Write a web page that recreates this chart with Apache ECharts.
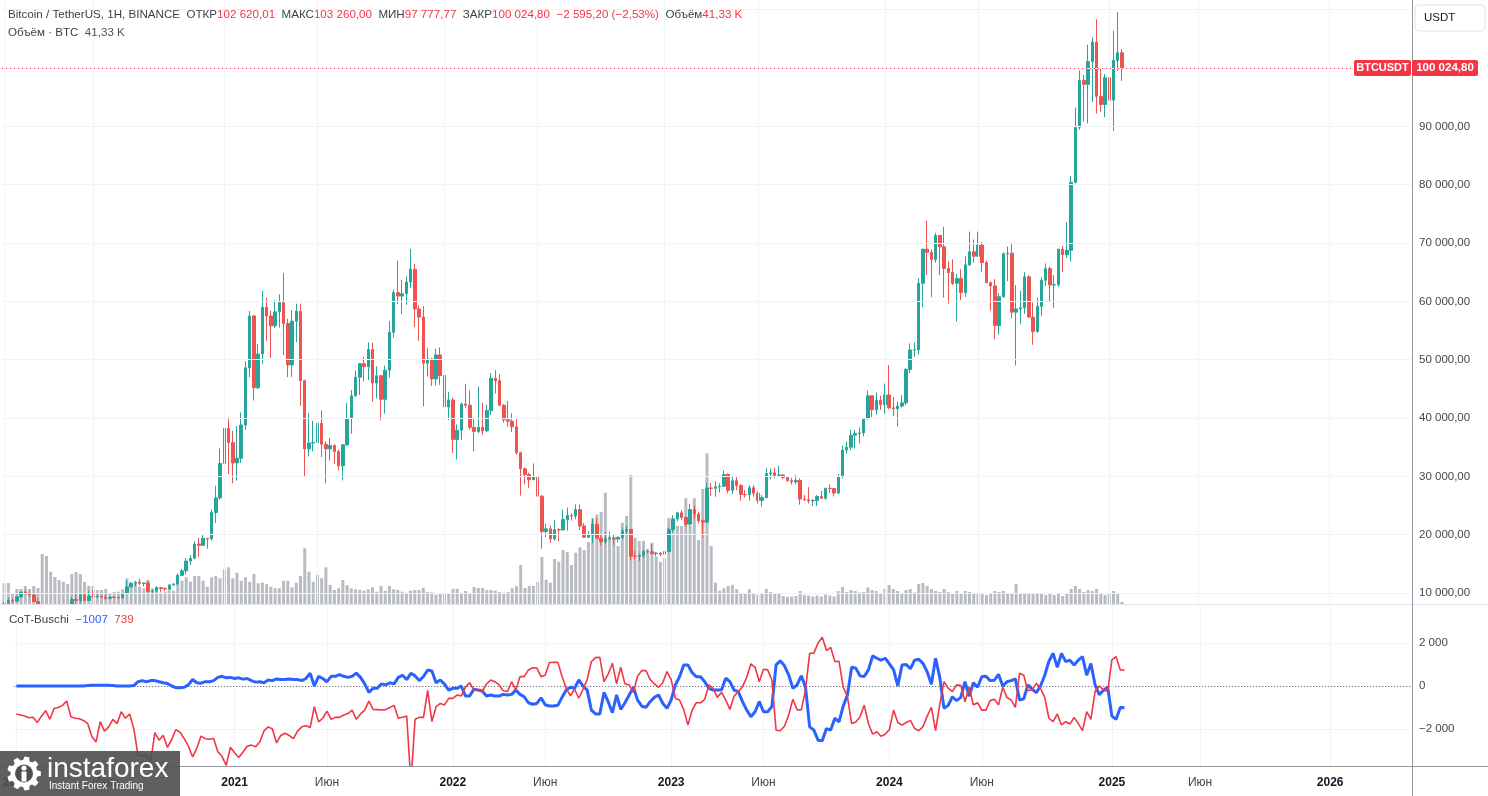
<!DOCTYPE html>
<html><head><meta charset="utf-8">
<script src="https://cdn.jsdelivr.net/npm/echarts@6/dist/echarts.min.js"></script>
<style>html,body{margin:0;padding:0;background:#fff;overflow:hidden}#c{width:1488px;height:796px}</style>
</head><body><div id="c"></div>
<script>
// ---------------- DATA ----------------
const weekStart = '2020-01-06';          // first weekly bar
const totalSlots = 333;                  // weekly slots shown on the time scale (incl. empty future)
const timeLabelIdx  = [0, 21, 52, 74, 104, 126, 156, 178, 208, 230, 261, 282, 313];
const timeLabelText = ['2020','Июн','2021','Июн','2022','Июн','2023','Июн','2024','Июн','2025','Июн','2026'];
const priceTicks = [10000,20000,30000,40000,50000,60000,70000,80000,90000,100000,110000];
const priceTicksLabeled = [10000,20000,30000,40000,50000,60000,70000,80000,90000];
const cotTicks = [2000, 0, -2000];
const headerTitle = 'Bitcoin / TetherUS, 1H, BINANCE';
const headerChange = '\u22122 595,20 (\u22122,53%)';

const opens = [7758,8186,8700,8600,9360,10160,9915,9660,8530,8030,5360,5810,5880,6770,6860,7120,7700,8900,8720,9680,8720,9460,9380,9470,9300,9080,9290,9240,
9160,9930,11050,11680,11850,11650,11700,10250,10330,10930,10770,10670,11390,11500,13030,13800,15480,15950,18400,18180,19370,19270,23800,26300,
32200,38200,35800,32300,33100,38800,48600,57500,45200,50970,59000,57500,55800,58200,59800,56200,49100,56600,58300,46400,34700,35700,35800,39100,35500,34700,35300,34250,31800,35400,39900,43800,47000,49300,48800,51750,46000,47250,43200,48200,54700,61500,60900,61300,63300,65500,58700,57300,49400,50100,46700,50800,
47300,41900,43100,36300,37900,42400,42200,38400,37700,38400,37800,41300,46800,46400,42200,39700,39450,38500,34050,31300,30300,29450,29900,26600,20550,21000,19300,20850,20800,22600,23300,23200,24300,21500,19550,19950,21800,19400,18800,19300,19400,19250,19550,20650,20900,16300,16280,16450,17100,17090,16750,16850,
16650,17100,20900,22700,23750,22950,21800,24300,23550,22400,22150,28000,27950,28200,28300,30300,27600,29250,28450,26900,26850,28050,27100,25850,26350,30450,30600,30150,30250,29800,29250,29050,29300,26100,26000,25800,25850,26550,26250,27950,27900,27150,29950,34500,35000,37050,37350,37450,39950,43800,41400,43000,
42300,43950,41750,41600,42050,42600,48300,51650,51700,63100,68950,68400,67200,71300,69350,65650,64950,63100,63900,61500,66250,68500,67750,69650,66650,63200,62650,55850,60800,68150,68250,58150,58700,58900,64200,57300,54850,59150,63600,65600,62800,62850,68950,68000,68750,80400,89850,97900,97200,101100,104450,95150,93750,
98350,94500,101300,102620.01];
const highs = [8455,9195,8990,9600,10170,10500,10250,9960,9190,8180,6900,6980,7300,7470,7300,7750,9460,10070,9950,9900,10380,10430,9990,9590,9800,9380,9480,9370,
9980,12120,11900,12080,12490,11800,12090,10600,11180,10990,10950,11490,11720,13350,14100,15970,16490,18900,19490,19920,19420,24300,28400,34780,
41950,40100,37800,38600,40950,49700,58350,57600,52650,61800,60600,58400,60200,61200,64850,57000,58500,59600,59600,46600,40850,39500,40500,41300,36000,36600,35500,34600,35500,42600,44800,48150,49400,50500,52950,52900,48850,47300,49000,56600,62000,67000,63700,64300,69000,66400,59300,59200,51950,50300,51900,52100,
47600,44500,43500,38900,42650,45850,44700,39800,45400,42600,42300,47700,48200,47500,42400,42950,40800,40000,34250,31500,30650,32200,31750,26800,21850,21550,22500,21100,24300,24650,23650,25200,25200,22000,20600,22800,22800,19950,20450,20500,19950,19700,21100,21500,21000,17200,16800,17400,17450,18400,17050,16950,
17250,21250,23350,23950,24250,23150,25250,25000,23900,22600,28850,28850,29200,28800,31000,30500,30050,29850,28650,27650,28450,28450,27400,26800,31400,31300,31450,31800,30350,29950,29750,30250,29650,26800,28150,26100,26800,27500,28050,28600,28000,30400,35250,35950,38000,37950,38400,40000,44700,43850,44400,43800,
45900,49050,43600,42850,43900,48600,52800,52950,64000,69000,73800,68900,71750,71350,72800,66850,67200,64750,65500,67700,71950,70600,71950,70200,67000,63400,63800,61400,68400,69400,70050,62750,61800,65000,64500,59800,60650,64100,66500,66000,64500,69000,69500,73600,81500,93250,99600,98800,104000,105250,108350,99950,98950,
102750,106400,109600,103260];
const lows = [7672,8050,8238,8560,9120,9700,9300,8460,8000,3780,4440,5670,5860,6520,6460,6760,7640,8100,8200,8630,8630,9270,9100,9200,8830,8930,9100,9000,
9120,9900,10960,11130,11370,11140,9880,9830,10270,10140,10370,10520,11220,11400,12900,13200,14800,15780,16200,18110,17600,19000,22000,26000,
28100,30400,28800,29300,32300,37990,47000,43000,44950,49300,53250,50300,55400,55500,50800,47000,47050,53000,42100,30000,33400,34300,31000,33300,28800,32700,32100,31000,29300,35200,37300,43700,43950,46300,46500,42800,43350,39600,40750,46900,53800,59500,57800,59400,62300,55600,53250,42000,47100,45500,45550,45700,
40600,39650,34000,32900,36250,41700,38000,34300,37400,37150,37550,40500,44200,42100,39200,38500,37600,33700,26700,28650,28000,29300,26550,17600,19600,18600,19000,18900,20750,20700,22400,22650,20800,19500,19400,18550,19300,18150,18450,19050,18200,18650,19250,20050,15600,15800,15500,16000,16700,16550,16300,16350,
16600,17000,20400,22300,22500,21350,21400,22750,21950,19550,21900,26600,26500,27200,28200,27100,26950,27650,25800,26350,25850,26500,25350,24800,26250,29500,29700,29950,29500,29100,28600,28700,25150,25800,25350,24900,24900,26100,26000,27200,26550,26950,29650,33900,34500,34750,35650,36850,39700,40200,40550,41400,
40750,41500,40300,38550,41800,42250,47700,50550,50900,59000,64550,60750,66600,64500,60650,59600,62800,56550,60200,60750,66050,66650,67600,65100,63100,58400,53500,54300,60650,63450,57100,49000,56100,57850,57200,52550,54600,57500,62700,59800,58900,62450,65050,67450,66800,80200,89400,90800,90500,94150,92200,92500,91550,
91200,89250,99500,97777.77];
const closes = [8186,8700,8600,9360,10160,9915,9660,8530,8030,5360,5810,5880,6770,6860,7120,7700,8900,8720,9680,8720,9460,9380,9470,9300,9080,9290,9240,9160,
9930,11050,11680,11850,11650,11700,10250,10330,10930,10770,10670,11390,11500,13030,13800,15480,15950,18400,18180,19370,19270,23800,26300,32200,
38200,35800,32300,33100,38800,48600,57500,45200,50970,59000,57500,55800,58200,59800,56200,49100,56600,58300,46400,34700,35700,35800,39100,35500,34700,35300,34250,31800,35400,39900,43800,47000,49300,48800,51750,46000,47250,43200,48200,54700,61500,60900,61300,63300,65500,58700,57300,49400,50100,46700,50800,47300,
41900,43100,36300,37900,42400,42200,38400,37700,38400,37800,41300,46800,46400,42200,39700,39450,38500,34050,31300,30300,29450,29900,26600,20550,21000,19300,20850,20800,22600,23300,23200,24300,21500,19550,19950,21800,19400,18800,19300,19400,19250,19550,20650,20900,16300,16280,16450,17100,17090,16750,16850,16650,
17100,20900,22700,23750,22950,21800,24300,23550,22400,22150,28000,27950,28200,28300,30300,27600,29250,28450,26900,26850,28050,27100,25850,26350,30450,30600,30150,30250,29800,29250,29050,29300,26100,26000,25800,25850,26550,26250,27950,27900,27150,29950,34500,35000,37050,37350,37450,39950,43800,41400,43000,42300,
43950,41750,41600,42050,42600,48300,51650,51700,63100,68950,68400,67200,71300,69350,65650,64950,63100,63900,61500,66250,68500,67750,69650,66650,63200,62650,55850,60800,68150,68250,58150,58700,58900,64200,57300,54850,59150,63600,65600,62800,62850,68950,68000,68750,80400,89850,97900,97200,101100,104450,95150,93750,98350,
94500,101300,102620.01,100024.80];
// weekly volume, thousand BTC
const volumes = [414,420,220,300,300,360,300,360,320,1000,960,646,540,480,446,400,600,640,600,440,360,360,280,280,300,220,240,246,
294,514,400,414,346,314,480,314,326,226,246,294,266,380,466,534,446,560,560,466,346,534,560,514,694,734,514,626,466,534,446,600,414,426,400,346,314,314,466,466,334,426,560,1114,646,446,580,514,734,380,280,314,480,380,314,294,280,266,294,334,246,360,266,360,294,280,246,226,266,280,280,
326,240,234,186,206,214,200,306,306,226,260,220,340,320,320,280,280,266,240,226,240,314,360,780,320,360,360,440,940,486,426,900,846,1080,1040,780,1026,1134,1080,1240,1714,1786,1840,2226,1346,1346,1160,1626,1760,2580,1326,1260,1260,1094,1226,946,846,914,1726,1680,1560,1560,2114,1560,2114,1280,2300,3014,1160,426,266,314,360,380,294,214,200,294,
200,180,220,300,240,200,220,160,140,150,160,
260,180,170,150,170,150,190,170,150,260,340,240,280,
260,230,240,330,280,260,220,300,380,300,260,220,
280,300,230,400,420,360,300,260,240,300,240,200,260,
220,260,240,200,220,200,180,200,260,240,260,220,220,400,220,
200,200,220,200,220,180,200,180,220,160,200,300,
360,300,240,280,260,300,200,180,220,260,200,41.33];
const cotBlue = [0,0,0,0,0,0,0,0,0,0,0,0,0,0,0,0,0,20,30,30,40,30,30,20,0,0,0,0,
20,200,250,200,250,250,200,150,120,0,-80,-80,-60,50,300,150,130,200,200,250,400,450,380,400,350,380,320,350,250,180,200,150,280,250,330,300,300,330,300,300,250,350,600,0,450,350,200,450,450,530,450,400,450,600,400,100,-300,-100,-100,100,50,150,100,400,500,300,
590,470,250,440,747,700,150,280,90,-187,-110,-110,0,-467,-467,-150,-187,-230,-467,-420,-467,-467,-390,-420,-390,-190,-390,-500,-780,-850,-810,-550,-870,-930,-935,-900,-530,-190,-60,-110,
280,0,-190,-1120,-1300,-1300,-300,-730,-1245,-420,-1090,-780,-420,-60,-650,-940,-990,-730,-530,-420,-800,-1040,-650,50,430,980,980,620,430,430,
200,-110,-190,-190,-190,360,200,-190,-260,-730,-1120,-1432,-1200,-730,-1200,-1200,-960,980,1170,940,520,-110,50,470,-30,-1900,-2050,-2520,-2550,-1980,
-2050,-1500,-1670,-930,-420,870,830,470,440,750,1400,1290,1200,1290,1030,750,0,980,
1000,800,1200,1240,1050,660,80,1290,400,-1040,-900,-500,-680,-530,200,-480,150,-60,430,450,250,270,540,0,200,250,330,-650,-600,50,
-150,-310,0,500,1150,1520,870,1520,1130,1200,980,1200,1365,500,1050,50,-400,-200,-50,-1400,-1550,-1000,-1007];
const cotRed = [-1300,-1350,-1400,-1480,-1450,-1700,-1400,-1150,-1550,-1050,-1000,-900,-700,-1430,-1500,-1520,-1600,-1750,-2350,-2600,-1650,-2100,-1900,-1550,-1750,-1200,-1500,-1300,
-2000,-3240,-3240,-3200,-3534,-2164,-2520,-2290,-2860,-2500,-2030,-2150,-2450,-2800,-3300,-2900,-2330,-2450,-2480,-2440,-3060,-3270,-3690,-2850,-3100,-3330,-3070,-2800,-2750,-2830,-2600,-2090,-1900,-2000,-2650,-2300,-2200,-2300,-2450,-2100,-1900,-1850,-1930,-965,-1670,-1500,-1170,-1550,-1460,-1460,-1350,-1280,-1120,-1550,-1300,-1120,-700,-1090,-1100,-1120,-1100,-1000,-900,-1500,-1450,-1400,
-4500,-1550,-1460,-1460,-200,-1650,-965,-810,-880,-576,-576,-420,-460,-62,156,-187,-187,-260,93,280,200,50,-220,-260,200,-190,436,436,747,850,840,436,500,1090,1100,1105,450,-100,-460,-150,
-570,-160,300,1137,1320,1340,200,550,1060,100,870,100,50,-300,450,716,720,300,100,-60,150,670,300,-576,-650,-1100,-1820,-1120,-780,-780,
-620,50,-110,-530,-300,-650,-1090,-470,-270,-30,400,1030,870,200,780,750,280,-2055,-2080,-1870,-1350,-620,-1100,-1120,-200,1525,1530,2000,2270,1650,
1800,1137,1150,-50,-500,-1745,-1670,-1430,-890,-1745,-2240,-2130,-2335,-2240,-2020,-1120,-1700,-1820,
-1700,-1600,-1970,-2080,-1890,-1400,-990,-2080,-850,200,-100,-260,50,30,-730,-60,-880,-780,-1120,-1120,-680,-620,-880,-60,-530,-650,-990,590,500,-220,
-190,124,-110,-530,-1500,-1660,-1300,-1810,-1660,-1770,-1460,-1750,-2080,-1190,-1550,-260,0,-190,-260,1210,1365,745,739];

// ---------------- LAYOUT / STYLE ----------------
const FONT = '"Liberation Sans", Arial, sans-serif';
const PRICE_MIN = 8114, PRICE_MAX = 111663;
const VOL_MAX = 12080;
const COT_MIN = -3721, COT_MAX = 3767;
const GRID_C = '#f0f3fa';
const UP = '#26a69a', DOWN = '#ef5350', RED = '#f23645', BLUE = '#2962ff';
const TXT = '#131722', AX = '#434651';
const HFS = 11.6;

function fmt(v, dec, group) {
  if (dec === undefined) dec = 2;
  if (group === undefined) group = true;
  const s = Math.abs(v).toFixed(dec);
  let parts = s.split('.');
  let ip = group ? parts[0].replace(/\B(?=(\d{3})+(?!\d))/g, ' ') : parts[0];
  return (v < 0 ? '\u2212' : '') + ip + (parts[1] ? ',' + parts[1] : '');
}

const cats = [];
const d0 = new Date(weekStart + 'T00:00:00Z').getTime();
for (let i = 0; i < totalSlots; i++) cats.push(new Date(d0 + i * 7 * 864e5).toISOString().slice(0, 10));
const labelMap = new Map(timeLabelIdx.map((k, j) => [k, timeLabelText[j]]));

const candles = opens.map((o, i) => [o, closes[i], lows[i], highs[i]]);
const n = closes.length;
const lastO = opens[n-1], lastH = highs[n-1], lastL = lows[n-1], lastC = closes[n-1];

const vLinesMain = timeLabelIdx.map(k => ({ xAxis: cats[k], label: { show: false } }));
const vLinesLow = timeLabelIdx.map(k => ({ xAxis: cats[k], label: { show: false } }));

const axisLabelStyle = { show: true, position: 'end', distance: 7, color: AX, fontSize: 11.5, fontFamily: FONT };

const option = {
  animation: false,
  backgroundColor: '#ffffff',
  textStyle: { fontFamily: FONT },
  grid: [
    { left: 2, right: 76, top: 0, height: 604 },
    { left: 2, right: 76, top: 605, height: 161 }
  ],
  xAxis: [
    { type: 'category', gridIndex: 0, data: cats, boundaryGap: true,
      axisLine: { show: false }, axisTick: { show: false }, axisLabel: { show: false }, splitLine: { show: false } },
    { type: 'category', gridIndex: 1, data: cats, boundaryGap: true,
      axisLine: { show: false }, axisTick: { show: false }, splitLine: { show: false },
      axisLabel: {
        interval: (i) => labelMap.has(i),
        margin: 11,
        formatter: (v, i) => { const t = labelMap.get(i) || ''; return /^\d+$/.test(t) ? '{y|' + t + '}' : '{m|' + t + '}'; },
        rich: {
          y: { fontWeight: 'bold', color: TXT, fontSize: 12, fontFamily: FONT },
          m: { color: AX, fontSize: 12, fontFamily: FONT }
        }
      } }
  ],
  yAxis: [
    { type: 'value', gridIndex: 0, min: PRICE_MIN, max: PRICE_MAX, show: false },
    { type: 'value', gridIndex: 0, min: 0, max: VOL_MAX, show: false },
    { type: 'value', gridIndex: 1, min: COT_MIN, max: COT_MAX, show: false }
  ],
  series: [
    { type: 'line', xAxisIndex: 0, yAxisIndex: 0, data: [], z: 0, silent: true,
      markLine: { symbol: ['none', 'none'], silent: true, animation: false,
        lineStyle: { color: GRID_C, width: 1, type: 'solid' },
        label: axisLabelStyle,
        data: priceTicks.map(v => ({ yAxis: v, label: { show: priceTicksLabeled.indexOf(v) >= 0, formatter: fmt(v) } })).concat(vLinesMain) } },
    { type: 'bar', xAxisIndex: 0, yAxisIndex: 1, data: volumes, barWidth: 3, silent: true, z: 1,
      itemStyle: { color: '#b9bbc2' } },
    { type: 'candlestick', xAxisIndex: 0, yAxisIndex: 0, data: candles, barWidth: 3, clip: true, silent: true, z: 2,
      itemStyle: { color: UP, color0: DOWN, borderColor: UP, borderColor0: DOWN, borderWidth: 1 },
      markLine: { symbol: ['none', 'none'], silent: true, animation: false,
        lineStyle: { color: RED, width: 1, type: [1, 3] }, label: { show: false },
        data: [{ yAxis: lastC }] } },
    { type: 'line', xAxisIndex: 1, yAxisIndex: 2, data: [], z: 4, silent: true,
      markLine: { symbol: ['none', 'none'], silent: true, animation: false,
        lineStyle: { color: GRID_C, width: 1, type: 'solid' },
        label: axisLabelStyle,
        data: cotTicks.map(v => v === 0
          ? { yAxis: 0, label: { formatter: '0' }, lineStyle: { color: '#4a4e59', type: [1, 2], width: 1 } }
          : { yAxis: v, label: { formatter: fmt(v, 0) } }).concat(vLinesLow) } },
    { type: 'line', xAxisIndex: 1, yAxisIndex: 2, data: cotBlue, symbol: 'none', silent: true, z: 5,
      lineStyle: { color: BLUE, width: 3 } },
    { type: 'line', xAxisIndex: 1, yAxisIndex: 2, data: cotRed, symbol: 'none', silent: true, z: 6,
      lineStyle: { color: RED, width: 1.6 } }
  ],
  graphic: []
};

// gear for logo
function gearPoints(cx, cy, rO, rI, teeth) {
  const pts = [];
  const step = Math.PI * 2 / teeth;
  for (let t = 0; t < teeth; t++) {
    const a = t * step;
    pts.push([cx + rI * Math.cos(a - step * 0.35), cy + rI * Math.sin(a - step * 0.35)]);
    pts.push([cx + rO * Math.cos(a - step * 0.2), cy + rO * Math.sin(a - step * 0.2)]);
    pts.push([cx + rO * Math.cos(a + step * 0.2), cy + rO * Math.sin(a + step * 0.2)]);
    pts.push([cx + rI * Math.cos(a + step * 0.35), cy + rI * Math.sin(a + step * 0.35)]);
  }
  return pts;
}

const header1 = '{t|' + headerTitle + '}  {t|ОТКР}{r|' + fmt(lastO) + '}  {t|МАКС}{r|' + fmt(lastH) +
  '}  {t|МИН}{r|' + fmt(lastL) + '}  {t|ЗАКР}{r|' + fmt(lastC) + '}  {r|' + headerChange + '}  {t|Объём}{r|' +
  fmt(volumes[n-1]) + ' K}';
const header2 = '{t|Объём · BTC}  {g|' + fmt(volumes[n-1]) + ' K}';
const cotLabel = '{t|CoT-Buschi}  {b|' + fmt(cotBlue[n-1], 0, false) + '}  {r|' + fmt(cotRed[n-1], 0, false) + '}';
const richBase = {
  t: { fill: '#3b3f4a', fontSize: HFS, fontFamily: FONT },
  r: { fill: RED, fontSize: HFS, fontFamily: FONT },
  b: { fill: BLUE, fontSize: HFS, fontFamily: FONT },
  g: { fill: '#50535e', fontSize: HFS, fontFamily: FONT }
};

option.graphic = [
  // white backdrop for the indicator pane: hides price marks that fall below the price scale
  { type: 'rect', id: 'lowBg', shape: { x: 0, y: 605, width: 1412, height: 161 }, style: { fill: '#ffffff' }, z: 3, silent: true },
  { type: 'line', id: 'sep1', shape: { x1: 0, y1: 604.5, x2: 1488, y2: 604.5 }, style: { stroke: '#e0e3eb', lineWidth: 1 }, z: 50, silent: true },
  { type: 'line', id: 'sep2', shape: { x1: 0, y1: 766.5, x2: 1488, y2: 766.5 }, style: { stroke: '#9598a1', lineWidth: 1 }, z: 50, silent: true },
  { type: 'line', id: 'axv', shape: { x1: 1412.5, y1: 0, x2: 1412.5, y2: 796 }, style: { stroke: '#9598a1', lineWidth: 1 }, z: 50, silent: true },
  { type: 'text', id: 'h1', x: 8, y: 15, silent: true, z: 60,
    style: { text: header1, rich: richBase, fontSize: HFS, fontFamily: FONT, fill: '#3b3f4a', verticalAlign: 'middle', align: 'left' } },
  { type: 'text', id: 'h2', x: 8, y: 33, silent: true, z: 60,
    style: { text: header2, rich: richBase, fontSize: HFS, fontFamily: FONT, fill: '#3b3f4a', verticalAlign: 'middle', align: 'left' } },
  { type: 'text', id: 'h3', x: 9, y: 620, silent: true, z: 60,
    style: { text: cotLabel, rich: richBase, fontSize: HFS, fontFamily: FONT, fill: '#3b3f4a', verticalAlign: 'middle', align: 'left' } },
  { type: 'rect', id: 'usdtBox', shape: { x: 1415, y: 5, width: 70, height: 26, r: 4 }, style: { fill: '#ffffff', stroke: '#e0e3eb', lineWidth: 1 }, z: 60, silent: true },
  { type: 'text', id: 'usdtTxt', x: 1424, y: 18, silent: true, z: 61,
    style: { text: 'USDT', fill: TXT, fontSize: 11.5, fontFamily: FONT, verticalAlign: 'middle', align: 'left' } },
  // logo
  { type: 'rect', id: 'logoBg', shape: { x: 0, y: 751, width: 180, height: 45 }, style: { fill: 'rgba(78,78,80,0.9)' }, z: 80, silent: true },
  { type: 'polygon', id: 'gear', shape: { points: gearPoints(24, 773.5, 17, 13.5, 9) }, style: { fill: '#ffffff' }, z: 81, silent: true },
  { type: 'circle', id: 'gearIn', shape: { cx: 24, cy: 773.5, r: 9 }, style: { fill: 'rgb(78,78,80)' }, z: 82, silent: true },
  { type: 'circle', id: 'gearHead', shape: { cx: 24, cy: 768, r: 2.6 }, style: { fill: '#ffffff' }, z: 83, silent: true },
  { type: 'rect', id: 'gearBody', shape: { x: 21.5, y: 771.5, width: 5, height: 10 }, style: { fill: '#ffffff' }, z: 83, silent: true },
  { type: 'text', id: 'logo1', x: 47, y: 769, silent: true, z: 83,
    style: { text: 'instaforex', fill: '#ffffff', fontSize: 28, fontFamily: FONT, verticalAlign: 'middle', align: 'left' } },
  { type: 'text', id: 'logo2', x: 49, y: 786, silent: true, z: 83,
    style: { text: 'Instant Forex Trading', fill: '#ffffff', fontSize: 10, fontFamily: FONT, verticalAlign: 'middle', align: 'left' } }
];

const chart = echarts.init(document.getElementById('c'), null, { renderer: 'canvas', width: 1488, height: 796 });
chart.setOption(option);

// current-price tags, positioned through the price scale
const yLast = chart.convertToPixel({ yAxisIndex: 0 }, lastC);
chart.setOption({
  graphic: [
    { type: 'rect', id: 'tagPx', shape: { x: 1412, y: yLast - 8, width: 66, height: 16, r: 2 }, style: { fill: RED }, z: 70, silent: true },
    { type: 'text', id: 'tagPxT', x: 1445, y: yLast, silent: true, z: 71,
      style: { text: fmt(lastC), fill: '#ffffff', fontSize: 11.5, fontWeight: 'bold', fontFamily: FONT, verticalAlign: 'middle', align: 'center' } },
    { type: 'rect', id: 'tagSym', shape: { x: 1354, y: yLast - 8, width: 57, height: 16, r: 2 }, style: { fill: RED }, z: 70, silent: true },
    { type: 'text', id: 'tagSymT', x: 1382.5, y: yLast, silent: true, z: 71,
      style: { text: 'BTCUSDT', fill: '#ffffff', fontSize: 11, fontWeight: 'bold', fontFamily: FONT, verticalAlign: 'middle', align: 'center' } }
  ]
});
</script>
</body></html>
